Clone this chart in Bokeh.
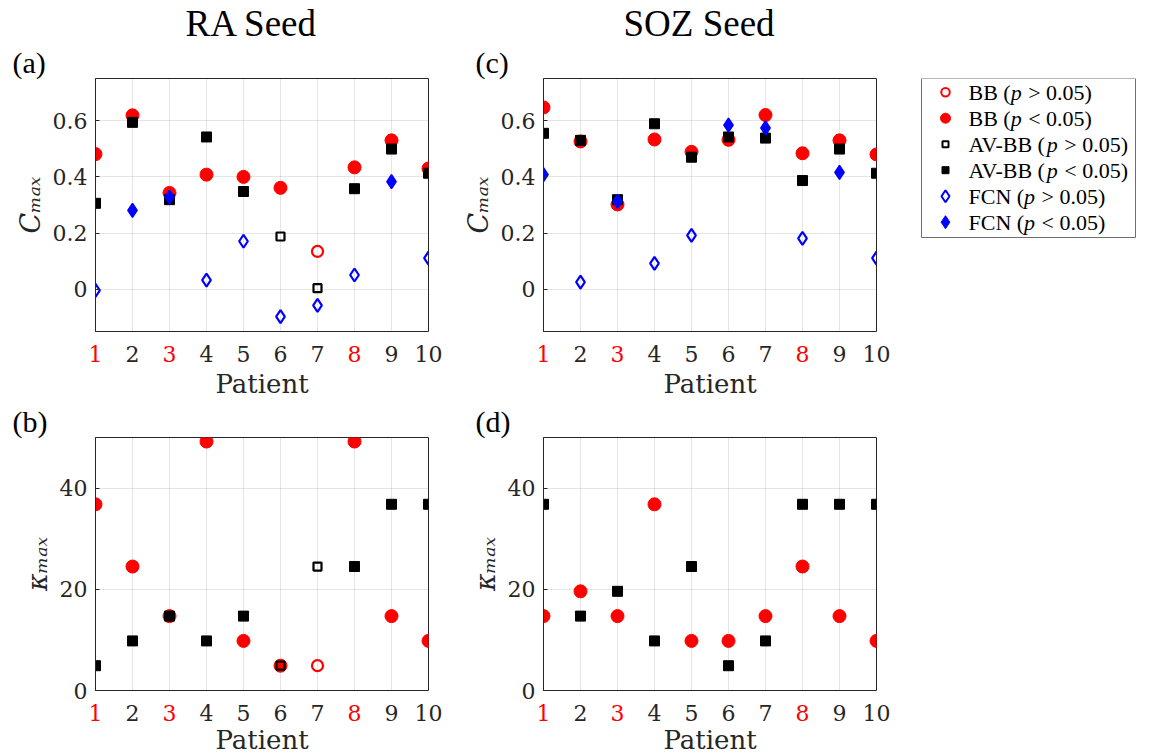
import numpy as np
from bokeh.plotting import figure
from bokeh.models import Range1d, FixedTicker, Title
from bokeh.layouts import column, row
from bokeh.embed import file_html
from bokeh.resources import INLINE
from bokeh.core.properties import value

# ---------------- data ----------------
patients = [1, 2, 3, 4, 5, 6, 7, 8, 9, 10]
tick_labels = ["1", "2", "3", "4", "5", "6", "7", "8", "9", "10"]
red_patients = [1, 3, 8]

c_ticks = [0, 0.2, 0.4, 0.6]
c_tick_labels = ["0", "0.2", "0.4", "0.6"]
k_ticks = [0, 20, 40]
k_tick_labels = ["0", "20", "40"]

# RA seed, C_max
ra_c_bb = [0.481, 0.619, 0.343, 0.408, 0.400, 0.361, 0.135, 0.434, 0.530, 0.430]
ra_c_bb_sig = [1, 1, 1, 1, 1, 1, 0, 1, 1, 1]
ra_c_av = [0.306, 0.594, 0.319, 0.542, 0.348, 0.188, 0.004, 0.358, 0.499, 0.413]
ra_c_av_sig = [1, 1, 1, 1, 1, 0, 0, 1, 1, 1]
ra_c_fcn = [-0.004, 0.281, 0.328, 0.033, 0.171, -0.097, -0.057, 0.051, 0.383, 0.111]
ra_c_fcn_sig = [0, 1, 1, 0, 0, 0, 0, 0, 1, 0]

# SOZ seed, C_max
soz_c_bb = [0.647, 0.526, 0.302, 0.533, 0.489, 0.532, 0.620, 0.484, 0.530, 0.480]
soz_c_bb_sig = [1, 1, 1, 1, 1, 1, 1, 1, 1, 1]
soz_c_av = [0.555, 0.530, 0.319, 0.589, 0.470, 0.542, 0.538, 0.387, 0.499, 0.413]
soz_c_av_sig = [1, 1, 1, 1, 1, 1, 1, 1, 1, 1]
soz_c_fcn = [0.408, 0.026, 0.313, 0.092, 0.192, 0.584, 0.574, 0.181, 0.416, 0.111]
soz_c_fcn_sig = [1, 0, 1, 0, 0, 1, 1, 0, 1, 0]

# RA seed, kappa_max
ra_k_bb = [36.8, 24.5, 14.7, 49.2, 9.8, 4.9, 4.9, 49.2, 14.7, 9.8]
ra_k_bb_sig = [1, 1, 1, 1, 1, 1, 0, 1, 1, 1]
ra_k_av = [4.9, 9.8, 14.7, 9.8, 14.7, 4.9, 24.5, 24.5, 36.8, 36.8]
ra_k_av_sig = [1, 1, 1, 1, 1, 0, 0, 1, 1, 1]

# SOZ seed, kappa_max
soz_k_bb = [14.7, 19.6, 14.7, 36.8, 9.8, 9.8, 14.7, 24.5, 14.7, 9.8]
soz_k_bb_sig = [1, 1, 1, 1, 1, 1, 1, 1, 1, 1]
soz_k_av = [36.8, 14.7, 19.6, 9.8, 24.5, 4.9, 9.8, 36.8, 36.8, 36.8]
soz_k_av_sig = [1, 1, 1, 1, 1, 1, 1, 1, 1, 1]

legend_prefix = ["BB (", "BB (", "AV-BB (", "AV-BB (", "FCN (", "FCN ("]
legend_rest = ["> 0.05)", "< 0.05)", "> 0.05)", "< 0.05)", "> 0.05)", "< 0.05)"]
legend_marker = ["circle", "circle", "square", "square", "diamond", "diamond"]
legend_color = ["#ff0000", "#ff0000", "#000000", "#000000", "#0000ff", "#0000ff"]
legend_filled = [0, 1, 0, 1, 0, 1]

# ---------------- styling ----------------
RED = "#ff0000"
BLUE = "#0000ff"
BLACK = "#000000"
AX = "#262626"
FW, FH = 333, 253          # frame size of every panel
BL, BR = 95, 20            # left / right borders of the panels
TICK_FONT = "DejaVu Serif"
SERIF = "Liberation Serif"

MARK = {  # marker: (filled size, open size)
    "circle": (13, 11),
    "square": (10, 8),
    "diamond": (14, 13),
}


def draw_series(p, y, sig, marker, color):
    x = np.array(patients, dtype=float)
    y = np.array(y, dtype=float)
    s = np.array(sig, dtype=bool)
    fs, os_ = MARK[marker]
    if s.any():
        p.scatter(x[s], y[s], marker=marker, size=fs, fill_color=color,
                  line_color=color, line_width=1.5 if marker == "diamond" else 1)
    if (~s).any():
        p.scatter(x[~s], y[~s], marker=marker, size=os_, fill_color=None,
                  line_color=color, line_width=2.2)


def make_panel(ylo, yhi, yticks, ylabels, ylabel, ylabel_standoff, top, bottom,
               letter, letter_offset, title=None, title_offset=0):
    p = figure(width=BL + FW + BR, height=top + FH + bottom,
               x_range=Range1d(1, 10), y_range=Range1d(ylo, yhi),
               output_backend="svg", toolbar_location=None, title=None,
               min_border_left=BL, min_border_right=BR,
               min_border_top=top, min_border_bottom=bottom)
    p.xaxis.visible = False
    p.xgrid.ticker = FixedTicker(ticks=patients)
    p.ygrid.ticker = FixedTicker(ticks=yticks)
    p.grid.grid_line_color = AX
    p.grid.grid_line_alpha = 0.12
    ax = p.yaxis[0]
    ax.ticker = FixedTicker(ticks=yticks)
    ax.major_label_overrides = {t: l for t, l in zip(yticks, ylabels)}
    ax.major_label_text_font = TICK_FONT
    ax.major_label_text_font_size = "22px"
    ax.major_label_text_color = AX
    ax.major_label_standoff = 8
    ax.major_tick_in = 4
    ax.major_tick_out = 0
    ax.minor_tick_in = 0
    ax.minor_tick_out = 0
    ax.axis_line_color = AX
    ax.major_tick_line_color = AX
    ax.axis_label = ylabel
    ax.axis_label_text_font = TICK_FONT
    ax.axis_label_text_font_style = "italic"
    ax.axis_label_text_font_size = "27px"
    ax.axis_label_text_color = AX
    ax.axis_label_standoff = ylabel_standoff
    p.outline_line_color = AX
    p.outline_line_alpha = 1
    p.outline_line_width = 1
    p.background_fill_color = "white"
    p.border_fill_color = "white"
    p.add_layout(Title(text=letter, align="left", offset=letter_offset,
                       standoff=0, text_font=SERIF, text_font_size="30px",
                       text_font_style="normal", text_color=BLACK), "above")
    if title is not None:
        p.add_layout(Title(text=title, align="left", offset=title_offset,
                           standoff=0, text_font=SERIF, text_font_size="37px",
                           text_font_style="normal", text_color=BLACK), "above")
    return p


SL = 20  # extra pixels on each side of the strip so that "1" and "10" fit


def make_strip(panel, height, tick_y, label_y, overlap=0):
    """Strip under a panel holding the coloured patient tick labels and the x label."""
    x0, x1 = panel.x_range.start, panel.x_range.end
    ppx = (x1 - x0) / FW
    s = figure(width=BL + FW + BR, height=height,
               x_range=Range1d(x0 - SL * ppx, x1 + SL * ppx),
               y_range=Range1d(height, 0), output_backend="svg",
               toolbar_location=None, title=None,
               min_border_left=BL - SL, min_border_right=BR - SL,
               min_border_top=0, min_border_bottom=0,
               margin=(-overlap, 0, 0, 0))
    s.axis.visible = False
    s.grid.visible = False
    s.outline_line_color = None
    s.background_fill_color = None
    s.border_fill_color = None
    colors = [RED if x in red_patients else AX for x in patients]
    s.text(x=patients, y=[tick_y] * len(patients), text=tick_labels,
           text_font=value(TICK_FONT), text_font_size=value("22px"),
           text_align="center", text_baseline="middle", text_color=colors)
    s.text(x=[(x0 + x1) / 2], y=[label_y], text=["Patient"], text_font=value(TICK_FONT),
           text_font_size=value("26px"), text_align="center",
           text_baseline="middle", text_color=AX)
    return s


C_LABEL = "C\u2098\u2090\u2093"
K_LABEL = "\u03ba\u2098\u2090\u2093"

# ---------------- panels ----------------
fa = make_panel(-0.15, 0.75, c_ticks, c_tick_labels, C_LABEL, 4, 78, 2, "(a)", -83,
                "RA Seed", 90)
fc = make_panel(-0.15, 0.75, c_ticks, c_tick_labels, C_LABEL, 4, 78, 2, "(c)", -68,
                "SOZ Seed", 80)
fb = make_panel(0, 50, k_ticks, k_tick_labels, K_LABEL, 4, 38, 14, "(b)", -83)
fd = make_panel(0, 50, k_ticks, k_tick_labels, K_LABEL, 4, 38, 14, "(d)", -68)

for p, bb, bbs, av, avs, fcn, fcns in [
    (fa, ra_c_bb, ra_c_bb_sig, ra_c_av, ra_c_av_sig, ra_c_fcn, ra_c_fcn_sig),
    (fc, soz_c_bb, soz_c_bb_sig, soz_c_av, soz_c_av_sig, soz_c_fcn, soz_c_fcn_sig),
]:
    draw_series(p, bb, bbs, "circle", RED)
    draw_series(p, av, avs, "square", BLACK)
    draw_series(p, fcn, fcns, "diamond", BLUE)

for p, bb, bbs, av, avs in [
    (fb, ra_k_bb, ra_k_bb_sig, ra_k_av, ra_k_av_sig),
    (fd, soz_k_bb, soz_k_bb_sig, soz_k_av, soz_k_av_sig),
]:
    draw_series(p, bb, bbs, "circle", RED)
    draw_series(p, av, avs, "square", BLACK)

sa = make_strip(fa, 66, 20, 50)
sc = make_strip(fc, 66, 20, 50)
sb = make_strip(fb, 62, 20, 47, overlap=12)
sd = make_strip(fd, 62, 20, 47, overlap=12)

# ---------------- legend ----------------
LGW = 246
fl = figure(width=LGW, height=78 + FH + 2, x_range=Range1d(0, LGW),
            y_range=Range1d(FH, 0), output_backend="svg", toolbar_location=None,
            title=None, min_border_left=0, min_border_right=0, min_border_top=78,
            min_border_bottom=2)
fl.axis.visible = False
fl.grid.visible = False
fl.outline_line_color = None
fl.background_fill_color = "white"
fl.border_fill_color = "white"
BOX_L, BOX_R, BOX_T, BOX_B = 25, 239, 0, 159
fl.quad(left=[BOX_L], right=[BOX_R], top=[BOX_T], bottom=[BOX_B],
        fill_color="white", line_color="#6e6e6e", line_width=1)

W = {"B": 0.667, "A": 0.722, "V": 0.722, "-": 0.333, "F": 0.556, "C": 0.667,
     "N": 0.722, " ": 0.25, "(": 0.333, ")": 0.333, ">": 0.564, "<": 0.564,
     "0": 0.5, ".": 0.25, "5": 0.5, "p": 0.5}
KERN = {"AV": -0.135}
LFS = 22


def twidth(s):
    w = sum(W.get(ch, 0.5) for ch in s)
    w += sum(KERN.get(s[i:i + 2], 0) for i in range(len(s) - 1))
    return w * LFS


row_y = [13.7 + 26 * i for i in range(6)]
MX, TX = 49, 72
LMS = {"circle": (10, 8.5), "square": (7, 6), "diamond": (13, 12)}
for i in range(6):
    m = legend_marker[i]
    col = legend_color[i]
    fs, os_ = LMS[m]
    if legend_filled[i]:
        fl.scatter([MX], [row_y[i]], marker=m, size=fs, fill_color=col,
                   line_color=col, line_width=1)
    else:
        fl.scatter([MX], [row_y[i]], marker=m, size=os_, fill_color=None,
                   line_color=col, line_width=2)
    x1 = TX + twidth(legend_prefix[i])
    x2 = x1 + twidth("p") + twidth(" ") + 1
    fl.text([TX], [row_y[i]], text=[legend_prefix[i]], text_font=value(SERIF),
            text_font_size=value(f"{LFS}px"), text_baseline="middle",
            text_align="left", text_color=BLACK)
    fl.text([x1], [row_y[i]], text=["p"], text_font=value(SERIF),
            text_font_size=value(f"{LFS}px"), text_font_style="italic",
            text_baseline="middle", text_align="left", text_color=BLACK)
    fl.text([x2], [row_y[i]], text=[legend_rest[i]], text_font=value(SERIF),
            text_font_size=value(f"{LFS}px"), text_baseline="middle",
            text_align="left", text_color=BLACK)

layout = column(row(fa, fc, fl), row(sa, sc), row(fb, fd), row(sb, sd))
open("out.html", "w").write(file_html(layout, INLINE))
